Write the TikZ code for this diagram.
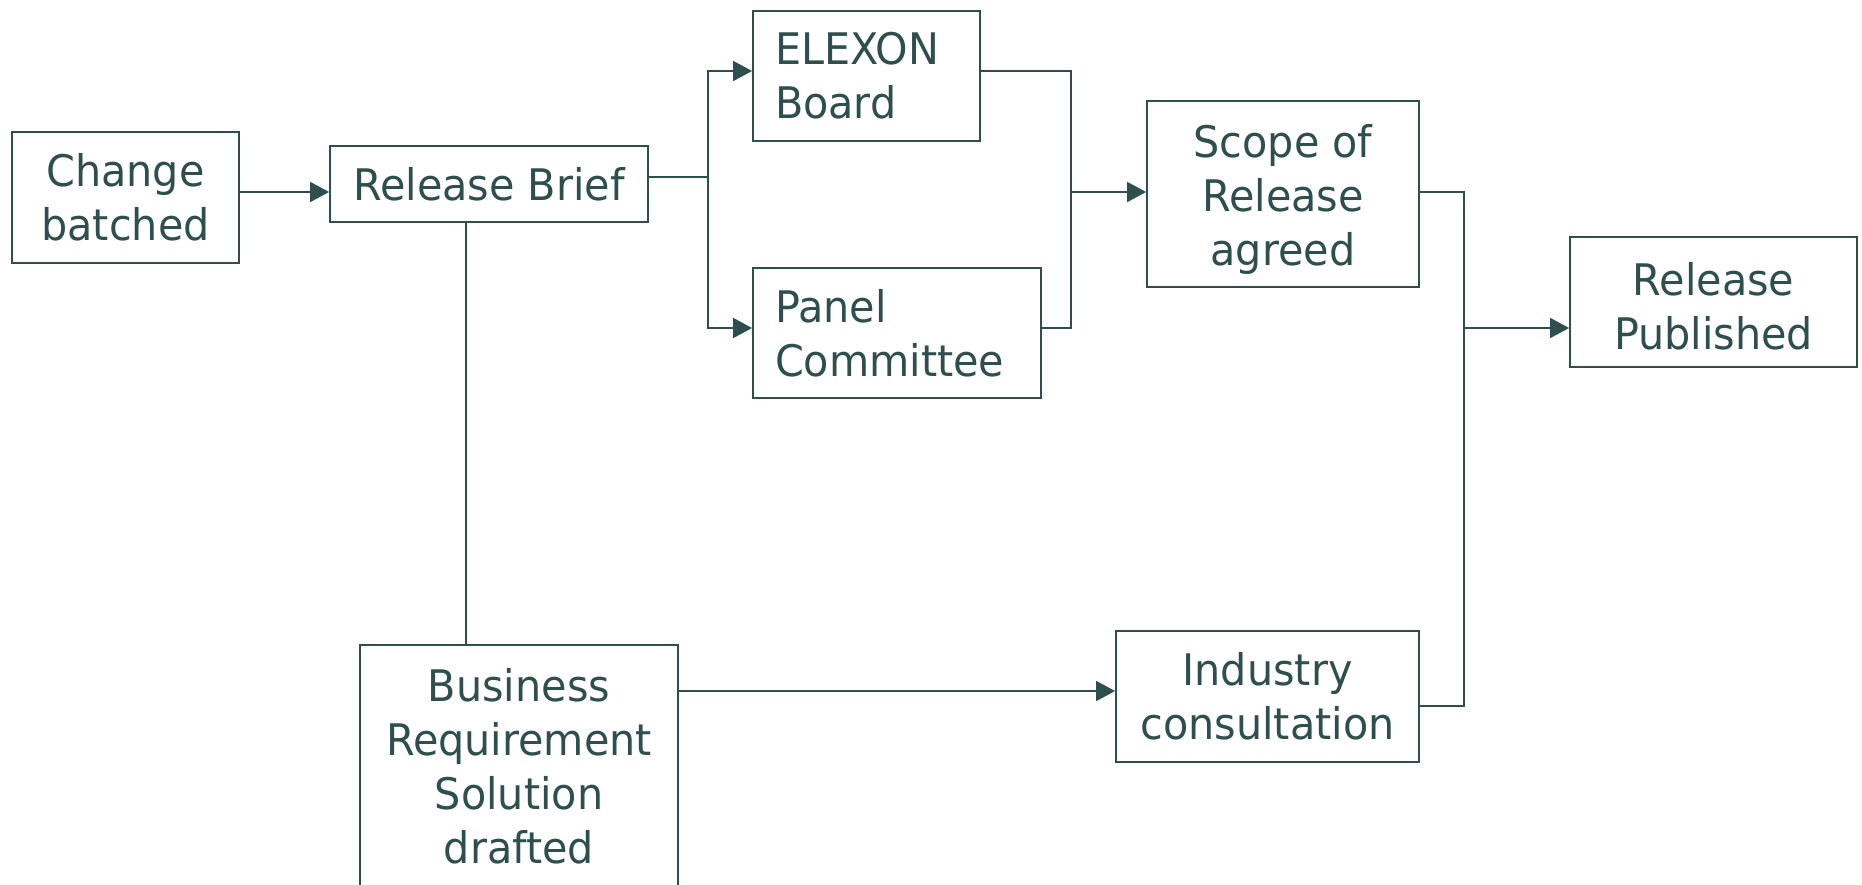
\documentclass[tikz,border=0pt]{standalone}
\usepackage{fontspec}
\setmainfont{DejaVu Sans}[FakeStretch=0.95]
\usetikzlibrary{arrows.meta}
\definecolor{ink}{HTML}{2F4F4F}
\newcommand{\upstrut}[1]{\rule{0pt}{#1}}
\begin{document}
\begin{tikzpicture}[x=1pt,y=-1pt,
  every node/.style={font=\fontsize{43.5}{54}\selectfont, text=ink},
  box/.style={draw=ink, line width=1.8pt, inner sep=0pt, align=center},
  conn/.style={draw=ink, line width=1.8pt},
  arr/.style={conn, -{Triangle[length=19pt,width=20pt]}}]
\useasboundingbox (0,0) rectangle (1862,884);

\node[box, minimum width=227pt, minimum height=131pt] (change) at (125.5,197.5) {Change\\batched};
\node[box, minimum width=318pt, minimum height=76pt] (rb) at (489,184) {Release Brief};
\node[box, minimum width=227pt, minimum height=130pt, text width=183pt, align=left] (elexon) at (866.5,76) {ELEXON\\Board};
\node[box, minimum width=288pt, minimum height=130pt, text width=244pt, align=left] (panel) at (897,333) {Panel\\Committee};
\node[box, minimum width=272pt, minimum height=186pt] (scope) at (1283,194) {\upstrut{44pt}Scope of\\Release\\agreed};
\node[box, minimum width=287pt, minimum height=130pt] (rp) at (1713.5,302) {\upstrut{42pt}Release\\Published};
\node[box, minimum width=303pt, minimum height=131pt] (ind) at (1267.5,696.5) {Industry\\consultation};
\node[box, minimum width=318pt, minimum height=242pt] (bus) at (519,766) {Business\\Requirement\\Solution\\drafted};

\draw[arr] (change.east |- 0,192) -- (rb.west |- 0,192);

\coordinate (bx) at (708,177);
\draw[conn] (rb.east |- bx) -- (bx);
\draw[arr] (bx) |- (elexon.west |- 0,71);
\draw[arr] (bx) |- (panel.west |- 0,328);

\coordinate (mx) at (1071,192);
\draw[conn] (elexon.east |- 0,71) -| (mx);
\draw[conn] (panel.east |- 0,328) -| (mx);
\draw[arr] (mx) -- (scope.west |- mx);

\coordinate (rx) at (1464,328);
\draw[conn] (scope.east |- 0,192) -| (rx);
\draw[conn] (ind.east |- 0,706) -| (rx);
\draw[arr] (rx) -- (rp.west |- rx);

\draw[conn] (rb.south -| 466,0) -- (bus.north -| 466,0);
\draw[arr] (bus.east |- 0,691) -- (ind.west |- 0,691);
\end{tikzpicture}
\end{document}
